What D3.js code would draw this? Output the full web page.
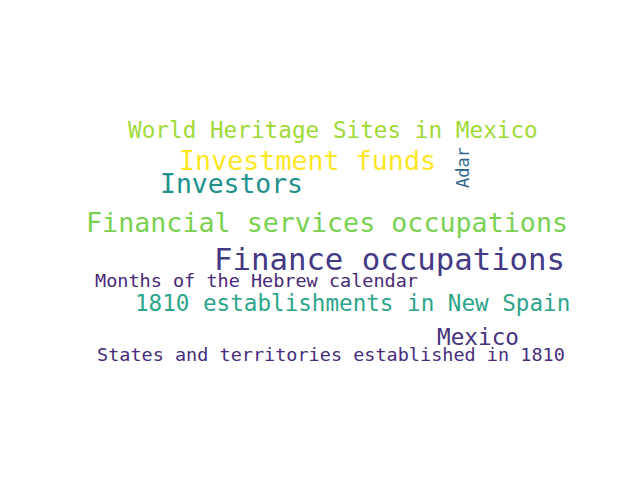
<!DOCTYPE html>
<html><head><meta charset="utf-8">
<script src="https://cdn.jsdelivr.net/npm/d3@7"></script>
<style>body{margin:0;background:#fff}</style>
</head><body>
<script>
// word cloud terms, sizes (px) and colours
const words = ["World Heritage Sites in Mexico", "Investment funds", "Investors",
  "Financial services occupations", "Finance occupations", "Months of the Hebrew calendar",
  "1810 establishments in New Spain", "Mexico", "States and territories established in 1810", "Adar"];
const sizes = [22.7, 26.7, 26.4, 26.7, 30.7, 18.5, 22.6, 22.7, 18.5, 17];
const colors = ["#a0da39", "#fde725", "#21918c", "#7ad151", "#443983", "#482878",
  "#2ca58a", "#46327e", "#472d7b", "#31688e"];
// layout placed by the cloud (left x, baseline y, rotation)
const layout = [[128,138,0],[179,170,0],[160,193,0],[86,232,0],[214,270,0],[95,287,0],
  [135,311,0],[437,345,0],[97,361,0],[469,188,-90]];

const svg = d3.select("body").append("svg").attr("width", 640).attr("height", 480);

svg.selectAll("text")
  .data(words.map((w, i) => ({ text: w, size: sizes[i], color: colors[i], pos: layout[i] })))
  .enter()
  .append("text")
    .attr("transform", d => `translate(${d.pos[0]},${d.pos[1]}) rotate(${d.pos[2]})`)
    .attr("font-family", "DejaVu Sans Mono")
    .attr("font-size", d => d.size)
    .attr("fill", d => d.color)
    .text(d => d.text);
</script>
</body></html>
